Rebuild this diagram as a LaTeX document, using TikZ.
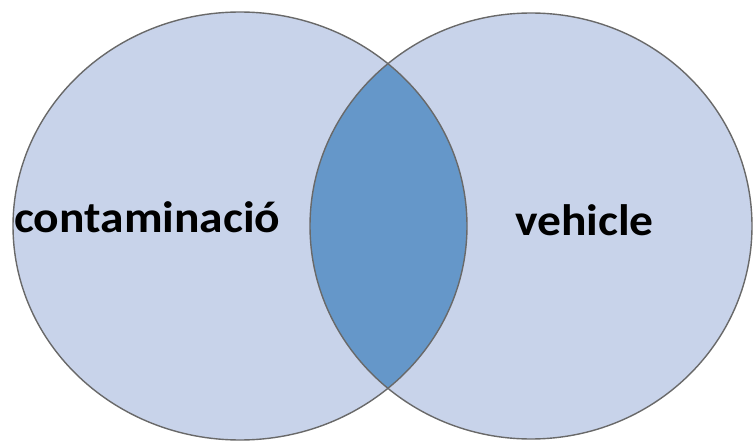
\documentclass[tikz,border=0pt]{standalone}
\usepackage{fontspec}
\setmainfont{Carlito}
\usetikzlibrary{shapes.geometric}
\definecolor{setfill}{RGB}{200,211,234}
\definecolor{lensfill}{RGB}{101,151,201}
\definecolor{edgegray}{RGB}{105,105,105}
\tikzset{
  setshape/.style={ellipse, inner sep=0pt, fill=setfill},
  setedge/.style={draw=edgegray, line width=1.4pt},
  setlabel/.style={font=\fontsize{44}{44}\bfseries\selectfont, text=black, inner sep=0pt, xscale=1.08}
}
\begin{document}
\begin{tikzpicture}[x=1pt,y=-1pt]
\useasboundingbox (0,0) rectangle (755,441);
\clip (0,0) rectangle (755,441);
\node[setshape, minimum width=454pt, minimum height=428pt] (A) at (240,226) {};
\node[setshape, minimum width=442pt, minimum height=426pt] (B) at (531,226) {};
\begin{scope}
  \clip (240,226) ellipse [x radius=227, y radius=214];
  \fill[lensfill] (531,226) ellipse [x radius=221, y radius=213];
\end{scope}
\draw[setedge] (240,226) ellipse [x radius=227, y radius=214];
\draw[setedge] (531,226) ellipse [x radius=221, y radius=213];
\node[setlabel, anchor=base west] (la) at (14,232) {contaminació};
\node[setlabel, anchor=base west] (lb) at (515,235) {vehicle};
\end{tikzpicture}
\end{document}
